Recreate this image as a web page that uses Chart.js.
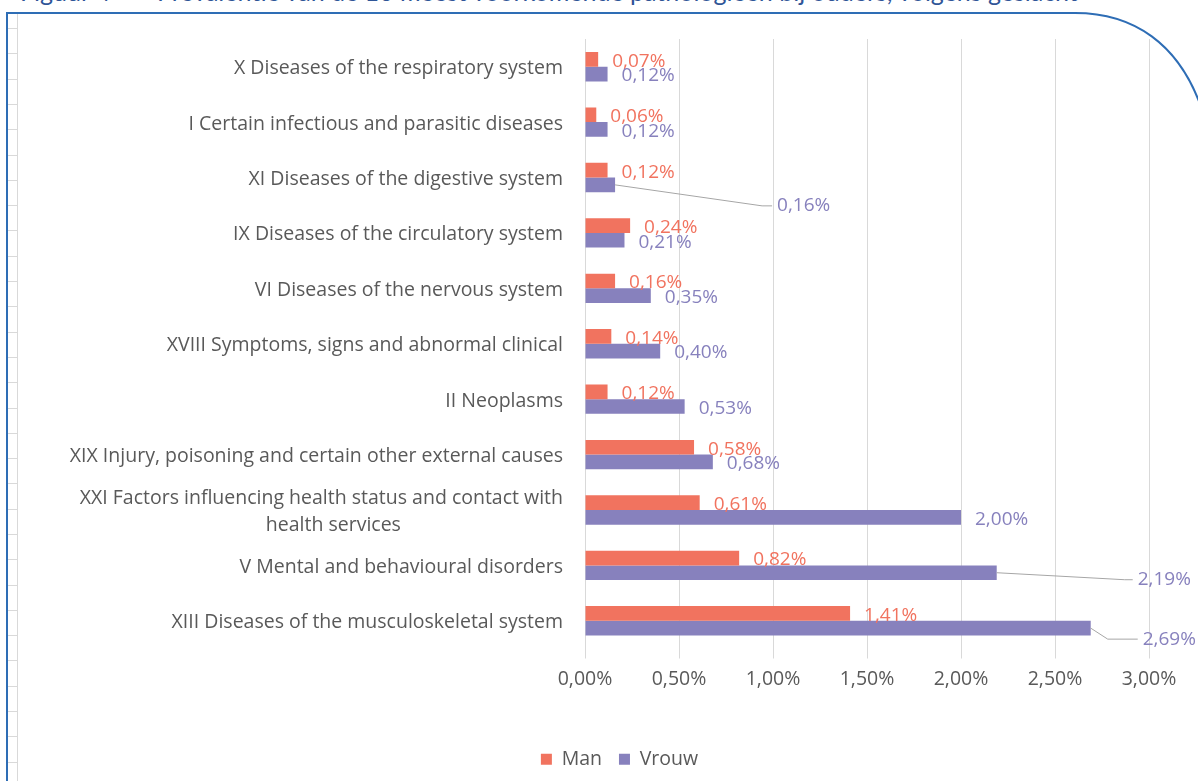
<!DOCTYPE html>
<html>
<head>
<meta charset="utf-8">
<script src="https://cdn.jsdelivr.net/npm/chart.js@4"></script>
<style>
  html, body { margin: 0; padding: 0; background: #fff; overflow: hidden; }
  #wrap { position: relative; width: 1198px; height: 781px; }
  .title {
    position: absolute; top: -21px; white-space: pre;
    font-family: Lato, sans-serif; font-size: 25px; line-height: 25px; color: #2F5597;
  }
  #frame { position: absolute; left: 0; top: 0; }
  #chartBox { position: absolute; left: 0; top: 0; width: 1198px; height: 781px; }
</style>
</head>
<body>
<div id="wrap">
  <div class="title" style="left:20px">Figuur 4</div>
  <div class="title" style="left:157px">Prevalentie van de 10 meest voorkomende pathologieën bij ouders, volgens geslacht</div>
  <svg id="frame" width="1198" height="781"></svg>
  <div id="chartBox"><canvas id="chart" width="1198" height="781"></canvas></div>
</div>
<script>
// categories, top to bottom
const categories = [
  "X Diseases of the respiratory system",
  "I Certain infectious and parasitic diseases",
  "XI Diseases of the digestive system",
  "IX Diseases of the circulatory system",
  "VI Diseases of the nervous system",
  "XVIII Symptoms, signs and abnormal clinical",
  "II Neoplasms",
  "XIX Injury, poisoning and certain other external causes",
  ["XXI Factors influencing health status and contact with", "health services" + " ".repeat(32)],
  "V Mental and behavioural disorders",
  "XIII Diseases of the musculoskeletal system"
]

// prevalence in %
const manValues = [0.07, 0.06, 0.12, 0.24, 0.16, 0.14, 0.12, 0.58, 0.61, 0.82, 1.41]
const vrouwValues = [0.12, 0.12, 0.16, 0.21, 0.35, 0.40, 0.53, 0.68, 2.00, 2.19, 2.69]

const seriesNames = ["Man", "Vrouw"]
const xTicks = [0, 0.5, 1, 1.5, 2, 2.5, 3]

const manColor = "#F1735F"
const vrouwColor = "#8781BD"

// labels that Excel moved out with a leader line:
// dataset-index -> [dx, dy from bar end, length of the flat part of the line]
const callouts = {
  "1-2": [162, 21, 10],
  "1-9": [141, 7, 8],
  "1-10": [52, 11, 30]
}

function fmt(v){
  return v.toFixed(2).replace(".", ",") + "%"
}

// frame from the word document
const svg = document.getElementById("frame")
let frameMarkup =
  '<line x1="17.5" y1="14" x2="17.5" y2="781" stroke="#D9D9D9" stroke-width="1"/>'
for (let y = 28; y < 781; y += 25.3) {
  frameMarkup += '<line x1="7" y1="' + Math.round(y) + '.5" x2="17" y2="' + Math.round(y) + '.5" stroke="#D9D9D9" stroke-width="1"/>'
}
frameMarkup +=
  '<path d="M7,781 L7,13 L1075,13 C1135,13 1178,45 1200,104" fill="none" stroke="#2E6DB5" stroke-width="2"/>'
svg.innerHTML = frameMarkup

const labelPlugin = {
  id: "barLabels",
  afterDatasetsDraw(chart){
    const ctx = chart.ctx
    ctx.save()
    ctx.font = "19px 'Open Sans'"
    ctx.textBaseline = "middle"
    ctx.textAlign = "left"
    chart.data.datasets.forEach((ds, di) => {
      const meta = chart.getDatasetMeta(di)
      meta.data.forEach((bar, i) => {
        const text = fmt(ds.data[i])
        const c = callouts[di + "-" + i]
        ctx.fillStyle = ds.backgroundColor
        if (c) {
          const lx = bar.x + c[0]
          const ly = bar.y + c[1]
          ctx.strokeStyle = "#A6A6A6"
          ctx.lineWidth = 1
          ctx.beginPath()
          ctx.moveTo(bar.x, bar.y)
          ctx.lineTo(lx - 5 - c[2], ly)
          ctx.lineTo(lx - 5, ly)
          ctx.stroke()
          ctx.fillText(text, lx, ly)
        } else {
          ctx.fillText(text, bar.x + 14, bar.y + 2)
        }
      })
    })
    ctx.restore()
  }
}

// legend sits a bit right of the canvas centre in the original
const legendShift = {
  id: "legendShift",
  afterLayout(chart){
    chart.legend.left += 25
    chart.legend.right += 25
  }
}

const chart = new Chart(document.getElementById("chart"), {
  type: "bar",
  data: {
    labels: categories,
    datasets: [
      { label: seriesNames[0], data: manValues, backgroundColor: manColor },
      { label: seriesNames[1], data: vrouwValues, backgroundColor: vrouwColor }
    ]
  },
  options: {
    indexAxis: "y",
    responsive: false,
    animation: false,
    categoryPercentage: 0.53,
    barPercentage: 1,
    layout: { padding: { left: 40, right: 49, top: 39, bottom: 2 } },
    scales: {
      x: {
        min: 0,
        max: 3,
        afterBuildTicks(scale){
          scale.ticks = xTicks.map(v => ({ value: v }))
        },
        afterFit(scale){ scale.height = 84 },
        grid: { color: "#D9D9D9", tickLength: 10, drawTicks: true },
        border: { display: false },
        ticks: {
          color: "#595959",
          font: { family: "Open Sans", size: 19.5 },
          padding: 9,
          callback: v => fmt(v)
        }
      },
      y: {
        grid: { display: false },
        border: { display: false },
        afterFit(scale){ scale.width = 545 },
        ticks: {
          autoSkip: false,
          labelOffset: 2,
          color: "#595959",
          font: { family: "Open Sans", size: 19.5, lineHeight: 1.35 },
          padding: 14
        }
      }
    },
    plugins: {
      legend: {
        position: "bottom",
        labels: {
          boxWidth: 11,
          boxHeight: 11,
          padding: 17,
          color: "#595959",
          font: { family: "Open Sans", size: 19.5 }
        }
      },
      tooltip: { enabled: false }
    }
  },
  plugins: [labelPlugin, legendShift]
})
</script>
</body>
</html>
